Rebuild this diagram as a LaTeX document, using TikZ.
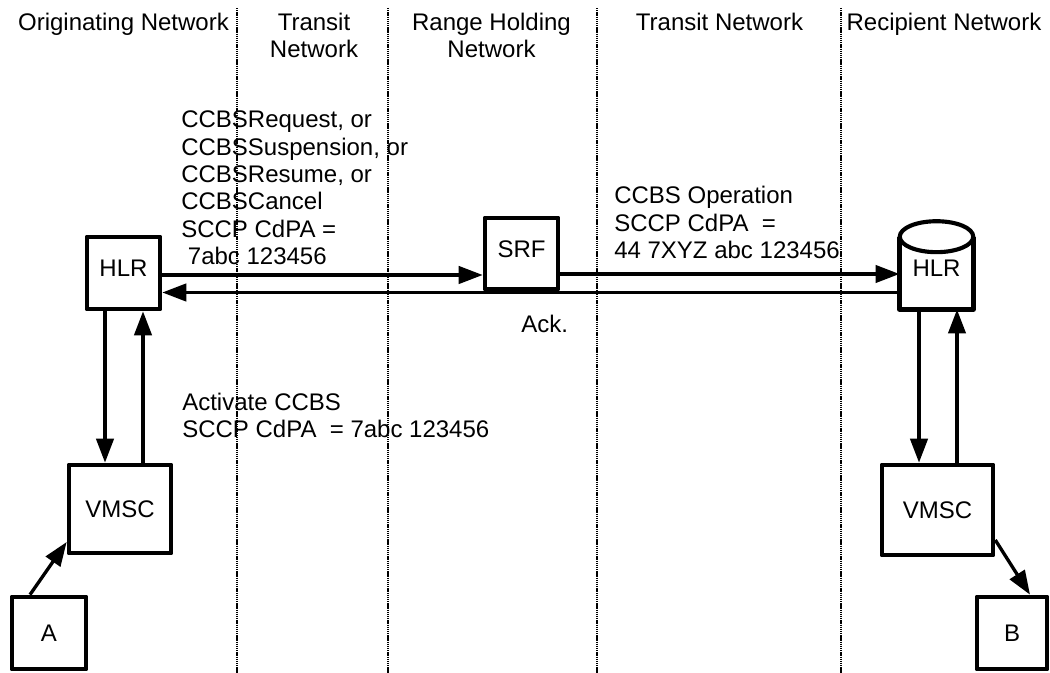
\documentclass[tikz,border=0pt]{standalone}
\usepackage{fontspec}
\setmainfont{Liberation Sans}
\usetikzlibrary{arrows.meta,calc}
\newcommand\lblfont{\fontsize{18}{20.5}\selectfont}
\begin{document}
\begin{tikzpicture}[x=0.75pt,y=-0.75pt,
  every node/.style={font=\lblfont},
  box/.style={draw, line width=3.1pt, line join=round, inner sep=0pt},
  raised/.style={text depth=7pt},
  arr/.style={line width=2.5pt, -{Triangle[length=18pt,width=13pt]}},
  divider/.style={line width=1.3pt, dash pattern=on 1pt off 0.6pt},
  lbl/.style={anchor=base west, align=left, inner sep=0pt},
  hdr/.style={anchor=base, align=center, inner sep=0pt}]
\useasboundingbox (0,0) rectangle (1050,673);

% network dividers
\draw[divider] (237,8) -- (237,673);
\draw[divider] (388,8) -- (388,673);
\draw[divider] (597,8) -- (597,673);
\draw[divider] (841,8) -- (841,673);

% headers
\node[hdr] (h1) at (123.5,31) {Originating Network};
\node[hdr] (h2) at (314,58) {Transit\\Network};
\node[hdr] (h3) at (491.5,58) {Range Holding\\Network};
\node[hdr] (h4) at (719.5,31) {Transit Network};
\node[hdr] (h5) at (944,31) {Recipient Network};

% boxes
\node[box, raised, minimum width=55.1pt, minimum height=54.4pt] (hlrL) at (123.5,273) {HLR};
\node[box, raised, minimum width=55.1pt, minimum height=53.6pt] (srf) at (521.5,253.5) {SRF};
\node[inner sep=0pt, raised, minimum width=55.1pt, minimum height=54.2pt] (hlrR) at (936.5,273.1) {HLR};
\draw[line width=3.1pt, line join=round] (hlrR.north west) -- (hlrR.south west) -- (hlrR.south east) -- (hlrR.north east);
\draw[line width=3.1pt] (hlrR.north) ellipse [x radius=27.56pt, y radius=11.6pt];
\node[box, minimum width=76.9pt, minimum height=66.4pt] (vmscL) at (120,509) {VMSC};
\node[box, minimum width=83.6pt, minimum height=67.9pt] (vmscR) at (937.5,510) {VMSC};
\node[box, minimum width=55.9pt, minimum height=54.4pt] (a) at (49,633) {A};
\node[box, minimum width=52.9pt, minimum height=54.4pt] (b) at (1012,633) {B};

% levels
\coordinate (yA) at (0,275);
\coordinate (yB) at (0,274);
\coordinate (yC) at (0,292.5);
\coordinate (xL1) at (105,0);
\coordinate (xL2) at (143,0);
\coordinate (xR1) at (919,0);
\coordinate (xR2) at (957,0);
\coordinate (xA) at (30,0);
\coordinate (yAv) at (0,542);
\coordinate (yBv) at (0,540);
\coordinate (xB) at (1030,0);

% connectors
\draw[arr] (hlrL.east |- yA) -- (srf.west |- yA);
\draw[arr] (srf.east |- yB) -- (hlrR.west |- yB);
\draw[arr] (hlrR.west |- yC) -- (hlrL.east |- yC);
\draw[arr] (hlrL.south -| xL1) -- (vmscL.north -| xL1);
\draw[arr] (vmscL.north -| xL2) -- (hlrL.south -| xL2);
\draw[arr] (hlrR.south -| xR1) -- (vmscR.north -| xR1);
\draw[arr] (vmscR.north -| xR2) -- (hlrR.south -| xR2);
\draw[arr] (a.north -| xA) -- (vmscL.west |- yAv);
\draw[arr] (vmscR.east |- yBv) -- (b.north -| xB);

% labels
\node[lbl] (req) at (181,264.5) {CCBSRequest, or\\CCBSSuspension, or\\CCBSResume, or\\CCBSCancel\\SCCP CdPA =\\\ 7abc 123456};
\node[lbl] (op) at (614,258.6) {CCBS Operation\\SCCP CdPA\ \ =\\44 7XYZ abc 123456};
\node[lbl] (ack) at (521,333) {Ack.};
\node[lbl] (act) at (182,438) {Activate CCBS\\SCCP CdPA\ \ = 7abc 123456};
\end{tikzpicture}
\end{document}
